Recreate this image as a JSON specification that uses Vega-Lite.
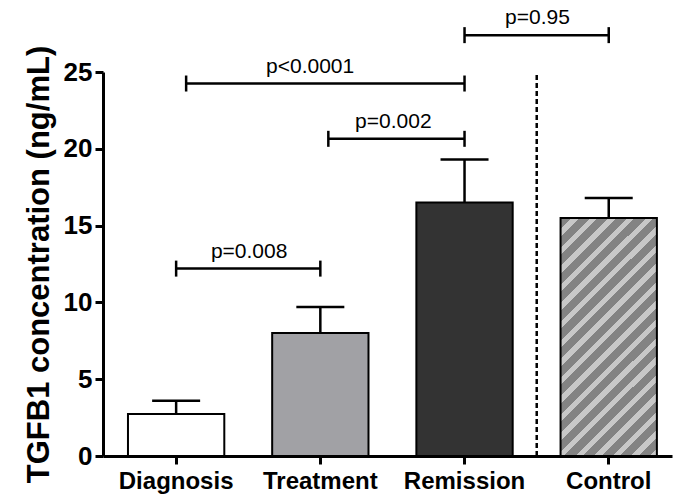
{
  "$schema": "https://vega.github.io/schema/vega-lite/v6.json",
  "width": 569,
  "height": 384,
  "autosize": {"type": "none"},
  "padding": {"left": 103, "top": 72, "right": 1, "bottom": 41},
  "background": "white",
  "config": {"view": {"stroke": null}, "font": "Liberation Sans", "text": {"font": "Liberation Sans"}},
  "datasets": {
    "groups": [
      {"group": "Diagnosis", "mean": 2.73, "upper": 3.6},
      {"group": "Treatment", "mean": 8.0, "upper": 9.7},
      {"group": "Remission", "mean": 16.5, "upper": 19.3},
      {"group": "Control", "mean": 15.5, "upper": 16.8}
    ],
    "brackets": [
      {"label": "p=0.008", "from": "Diagnosis", "to": "Treatment", "y": 12.2},
      {"label": "p<0.0001", "from": "Diagnosis", "to": "Remission", "y": 24.25},
      {"label": "p=0.002", "from": "Treatment", "to": "Remission", "y": 20.65},
      {"label": "p=0.95", "from": "Remission", "to": "Control", "y": 27.4}
    ],
    "divider": [{"group": "Control", "bottom": 0, "top": 25}]
  },
  "layer": [
    {
      "data": {"name": "groups"},
      "transform": [{"filter": "datum.group !== 'Control'"}],
      "mark": {"type": "bar", "stroke": "black", "strokeWidth": 2},
      "encoding": {
        "x": {
          "field": "group", "type": "nominal", "sort": null,
          "scale": {"domain": ["Diagnosis", "Treatment", "Remission", "Control"], "paddingInner": 0.332, "paddingOuter": 0.139, "align": 0.623},
          "axis": {"title": null, "labelAngle": 0, "labelFontSize": 24, "labelFontWeight": "bold", "labelColor": "black", "labelPadding": 5, "tickSize": 8, "tickWidth": 3, "tickColor": "black", "domainWidth": 3, "domainColor": "black", "labelFont": "Liberation Sans"}
        },
        "y": {
          "field": "mean", "type": "quantitative",
          "scale": {"domain": [0, 25], "nice": false},
          "axis": {"values": [0, 5, 10, 15, 20, 25], "grid": false, "domainColor": "black", "domainWidth": 3, "tickColor": "black", "tickWidth": 3, "tickSize": 8, "labelFontSize": 26, "labelFontWeight": "bold", "labelColor": "black", "labelPadding": 3, "labelFont": "Liberation Sans", "title": "TGFB1 concentration (ng/mL)", "titleFontSize": 31, "titleFontWeight": "bold", "titleColor": "black", "titlePadding": 8, "titleFont": "Liberation Sans"}
        },
        "fill": {"field": "group", "type": "nominal", "scale": {"domain": ["Diagnosis", "Treatment", "Remission"], "range": ["#ffffff", "#a1a1a5", "#333333"]}, "legend": null}
      }
    },
    {
      "data": {"name": "groups"},
      "transform": [{"filter": "datum.group === 'Control'"}],
      "mark": {"type": "bar", "stroke": "black", "strokeWidth": 2,
        "fill": {"gradient": "linear", "x1": 0, "y1": 0, "x2": 0.4877, "y2": 1.207, "stops": [
          {"offset": 0, "color": "#838383"}, {"offset": 0.03333, "color": "#838383"}, {"offset": 0.03333, "color": "#c8c8c8"}, {"offset": 0.05556, "color": "#c8c8c8"},
          {"offset": 0.05556, "color": "#838383"}, {"offset": 0.08889, "color": "#838383"}, {"offset": 0.08889, "color": "#c8c8c8"}, {"offset": 0.11111, "color": "#c8c8c8"},
          {"offset": 0.11111, "color": "#838383"}, {"offset": 0.14444, "color": "#838383"}, {"offset": 0.14444, "color": "#c8c8c8"}, {"offset": 0.16667, "color": "#c8c8c8"},
          {"offset": 0.16667, "color": "#838383"}, {"offset": 0.2, "color": "#838383"}, {"offset": 0.2, "color": "#c8c8c8"}, {"offset": 0.22222, "color": "#c8c8c8"},
          {"offset": 0.22222, "color": "#838383"}, {"offset": 0.25556, "color": "#838383"}, {"offset": 0.25556, "color": "#c8c8c8"}, {"offset": 0.27778, "color": "#c8c8c8"},
          {"offset": 0.27778, "color": "#838383"}, {"offset": 0.31111, "color": "#838383"}, {"offset": 0.31111, "color": "#c8c8c8"}, {"offset": 0.33333, "color": "#c8c8c8"},
          {"offset": 0.33333, "color": "#838383"}, {"offset": 0.36667, "color": "#838383"}, {"offset": 0.36667, "color": "#c8c8c8"}, {"offset": 0.38889, "color": "#c8c8c8"},
          {"offset": 0.38889, "color": "#838383"}, {"offset": 0.42222, "color": "#838383"}, {"offset": 0.42222, "color": "#c8c8c8"}, {"offset": 0.44444, "color": "#c8c8c8"},
          {"offset": 0.44444, "color": "#838383"}, {"offset": 0.47778, "color": "#838383"}, {"offset": 0.47778, "color": "#c8c8c8"}, {"offset": 0.5, "color": "#c8c8c8"},
          {"offset": 0.5, "color": "#838383"}, {"offset": 0.53333, "color": "#838383"}, {"offset": 0.53333, "color": "#c8c8c8"}, {"offset": 0.55556, "color": "#c8c8c8"},
          {"offset": 0.55556, "color": "#838383"}, {"offset": 0.58889, "color": "#838383"}, {"offset": 0.58889, "color": "#c8c8c8"}, {"offset": 0.61111, "color": "#c8c8c8"},
          {"offset": 0.61111, "color": "#838383"}, {"offset": 0.64444, "color": "#838383"}, {"offset": 0.64444, "color": "#c8c8c8"}, {"offset": 0.66667, "color": "#c8c8c8"},
          {"offset": 0.66667, "color": "#838383"}, {"offset": 0.7, "color": "#838383"}, {"offset": 0.7, "color": "#c8c8c8"}, {"offset": 0.72222, "color": "#c8c8c8"},
          {"offset": 0.72222, "color": "#838383"}, {"offset": 0.75556, "color": "#838383"}, {"offset": 0.75556, "color": "#c8c8c8"}, {"offset": 0.77778, "color": "#c8c8c8"},
          {"offset": 0.77778, "color": "#838383"}, {"offset": 0.81111, "color": "#838383"}, {"offset": 0.81111, "color": "#c8c8c8"}, {"offset": 0.83333, "color": "#c8c8c8"},
          {"offset": 0.83333, "color": "#838383"}, {"offset": 0.86667, "color": "#838383"}, {"offset": 0.86667, "color": "#c8c8c8"}, {"offset": 0.88889, "color": "#c8c8c8"},
          {"offset": 0.88889, "color": "#838383"}, {"offset": 0.92222, "color": "#838383"}, {"offset": 0.92222, "color": "#c8c8c8"}, {"offset": 0.94444, "color": "#c8c8c8"},
          {"offset": 0.94444, "color": "#838383"}, {"offset": 0.97778, "color": "#838383"}, {"offset": 0.97778, "color": "#c8c8c8"}, {"offset": 1, "color": "#c8c8c8"}
        ]}},
      "encoding": {
        "x": {"field": "group", "type": "nominal"},
        "y": {"field": "mean", "type": "quantitative"}
      }
    },
    {
      "data": {"name": "groups"},
      "mark": {"type": "rule", "color": "black", "strokeWidth": 2.5},
      "encoding": {
        "x": {"field": "group", "type": "nominal"},
        "y": {"field": "mean", "type": "quantitative"},
        "y2": {"field": "upper"}
      }
    },
    {
      "data": {"name": "groups"},
      "mark": {"type": "point", "shape": "M-1,0H1", "size": 2304, "filled": false, "stroke": "black", "strokeWidth": 2.5, "opacity": 1},
      "encoding": {
        "x": {"field": "group", "type": "nominal"},
        "y": {"field": "upper", "type": "quantitative"}
      }
    },
    {
      "data": {"name": "divider"},
      "mark": {"type": "rule", "color": "black", "strokeWidth": 2.5, "strokeDash": [5, 3], "xOffset": -72},
      "encoding": {
        "x": {"field": "group", "type": "nominal"},
        "y": {"field": "bottom", "type": "quantitative"},
        "y2": {"field": "top"}
      }
    },
    {
      "data": {"name": "brackets"},
      "transform": [{"filter": "datum.label === 'p=0.008' || datum.label === 'p=0.95'"}],
      "mark": {"type": "rule", "color": "black", "strokeWidth": 2.5},
      "encoding": {
        "x": {"field": "from", "type": "nominal"},
        "x2": {"field": "to"},
        "y": {"field": "y", "type": "quantitative"}
      }
    },
    {
      "data": {"name": "brackets"},
      "transform": [{"filter": "datum.label === 'p<0.0001'"}],
      "mark": {"type": "rule", "color": "black", "strokeWidth": 2.5, "xOffset": 10, "x2Offset": 0},
      "encoding": {
        "x": {"field": "from", "type": "nominal"},
        "x2": {"field": "to"},
        "y": {"field": "y", "type": "quantitative"}
      }
    },
    {
      "data": {"name": "brackets"},
      "transform": [{"filter": "datum.label === 'p=0.002'"}],
      "mark": {"type": "rule", "color": "black", "strokeWidth": 2.5, "xOffset": 8, "x2Offset": 0},
      "encoding": {
        "x": {"field": "from", "type": "nominal"},
        "x2": {"field": "to"},
        "y": {"field": "y", "type": "quantitative"}
      }
    },
    {
      "data": {"name": "brackets"},
      "transform": [{"filter": "datum.label === 'p=0.008' || datum.label === 'p=0.95'"}],
      "mark": {"type": "point", "shape": "M0,-1V1", "size": 256, "filled": false, "stroke": "black", "strokeWidth": 2.5, "opacity": 1},
      "encoding": {
        "x": {"field": "from", "type": "nominal"},
        "y": {"field": "y", "type": "quantitative"}
      }
    },
    {
      "data": {"name": "brackets"},
      "transform": [{"filter": "datum.label === 'p<0.0001'"}],
      "mark": {"type": "point", "shape": "M0,-1V1", "size": 256, "filled": false, "stroke": "black", "strokeWidth": 2.5, "opacity": 1, "xOffset": 10},
      "encoding": {
        "x": {"field": "from", "type": "nominal"},
        "y": {"field": "y", "type": "quantitative"}
      }
    },
    {
      "data": {"name": "brackets"},
      "transform": [{"filter": "datum.label === 'p=0.002'"}],
      "mark": {"type": "point", "shape": "M0,-1V1", "size": 256, "filled": false, "stroke": "black", "strokeWidth": 2.5, "opacity": 1, "xOffset": 8},
      "encoding": {
        "x": {"field": "from", "type": "nominal"},
        "y": {"field": "y", "type": "quantitative"}
      }
    },
    {
      "data": {"name": "brackets"},
      "mark": {"type": "point", "shape": "M0,-1V1", "size": 256, "filled": false, "stroke": "black", "strokeWidth": 2.5, "opacity": 1},
      "encoding": {
        "x": {"field": "to", "type": "nominal"},
        "y": {"field": "y", "type": "quantitative"}
      }
    },
    {
      "data": {"name": "brackets"},
      "transform": [{"filter": "datum.label !== 'p<0.0001'"}],
      "mark": {"type": "text", "fontSize": 21, "color": "black", "baseline": "middle", "align": "center", "dx": 73, "dy": -17},
      "encoding": {
        "x": {"field": "from", "type": "nominal"},
        "y": {"field": "y", "type": "quantitative"},
        "text": {"field": "label"}
      }
    },
    {
      "data": {"name": "brackets"},
      "transform": [{"filter": "datum.label === 'p<0.0001'"}],
      "mark": {"type": "text", "fontSize": 21, "color": "black", "baseline": "middle", "align": "center", "dx": 134, "dy": -17},
      "encoding": {
        "x": {"field": "from", "type": "nominal"},
        "y": {"field": "y", "type": "quantitative"},
        "text": {"field": "label"}
      }
    }
  ]
}
